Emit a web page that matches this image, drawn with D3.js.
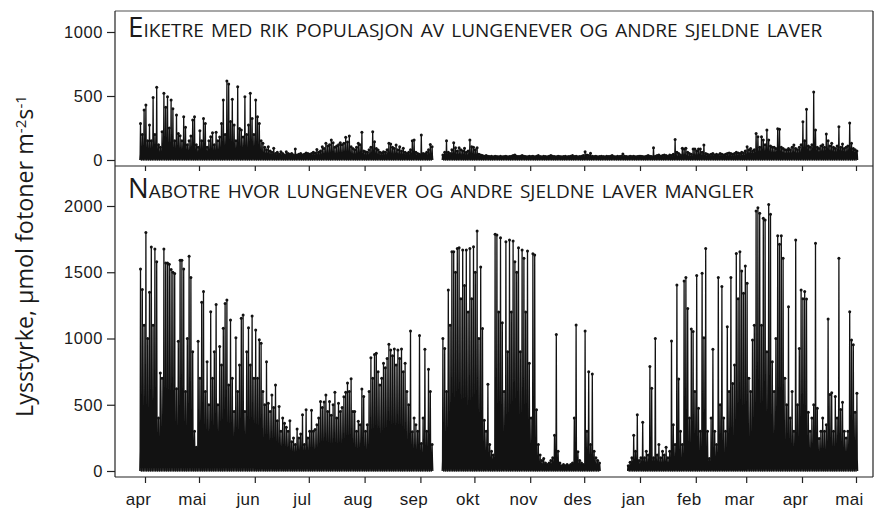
<!DOCTYPE html>
<html>
<head>
<meta charset="utf-8">
<script src="https://cdn.jsdelivr.net/npm/d3@7"></script>
<style>
  body { margin: 0; background: #fff; }
  svg { font-family: "Open Sans", "DejaVu Sans", sans-serif; }
  .axis text { font-size: 16.5px; fill: #1a1a1a; letter-spacing: 0.6px; }
  .axis line { stroke: #222; stroke-width: 1.2px; }
  .axis path { display: none; }
  .light-line { fill: none; stroke: #121212; stroke-width: 1.3px; stroke-linejoin: round; }
  .peak-dot { fill: #121212; }
  .panel-title { font-variant: small-caps; fill: #1a1a1a; font-weight: 500; }
</style>
</head>
<body>
<svg id="chart" width="880" height="517"></svg>
<script>
/* ---------- data (daily maximum light) ---------- */
const startDate = "2010-03-29";   // first day with measurements
const monthLabels = ["apr", "mai", "jun", "jul", "aug", "sep", "okt", "nov", "des", "jan", "feb", "mar", "apr", "mai"];
const topTicks = [0, 500, 1000];
const botTicks = [0, 500, 1000, 1500, 2000];
const topTitle = "Eiketre med rik populasjon av lungenever og andre sjeldne laver";
const botTitle = "Nabotre hvor lungenever og andre sjeldne laver mangler";

// Eiketre (upper panel), one value per day, null = no data
const eikPeak = [
  286, 200, 390,
  430, 150, 273, 150, 488, 200, 568, 120, 100, 221, 521, 412, 495, 250, 469, 400, 150, 352, 208, 190, 150, 338, 255, 120, 150, 188, 312, 338, 120, 100,
  229, 150, 325, 286, 100, 150, 182, 213, 120, 216, 150, 180, 286, 469, 200, 617, 594, 300, 474, 273, 150, 573, 247, 234, 180, 495, 200, 273, 521, 325, 200,
  469, 338, 286, 150, 130, 100, 80, 104, 70, 60, 91, 50, 60, 45, 65, 50, 40, 65, 50, 45, 50, 40, 86, 40, 45, 50, 40, 45, 55, 50,
  45, 50, 60, 55, 83, 60, 70, 104, 90, 130, 110, 120, 156, 135, 100, 110, 120, 135, 120, 130, 177, 140, 187, 104, 90, 80, 100, 130, 120, 216, 70,
  65, 60, 80, 100, 221, 143, 90, 78, 60, 55, 65, 60, 80, 130, 125, 100, 90, 117, 80, 104, 70, 91, 60, 50, 60, 80, 151, 156, 60, 50, 45,
  195, 50, 47, 60, 80, 122, 104, null, null, null, null, null, 40, 60, 151, 60, 50, 80, 135, 96, 70, 96, 80, 70, 91, 60, 70, 156, 104, 99,
  80, 96, 45, 40, 35, 30, 35, 30, 28, 30, 25, 30, 28, 25, 30, 25, 28, 30, 25, 28, 30, 35, 40, 30, 28, 30, 35, 30, 28, 25, 30,
  28, 30, 25, 30, 35, 28, 25, 30, 28, 25, 30, 35, 30, 28, 25, 30, 28, 25, 28, 30, 25, 28, 30, 35, 28, 30, 25, 28, 30, 35,
  65, 40, 35, 52, 30, 28, 30, 25, 28, 30, 28, 25, 30, 28, 30, 35, 28, 25, 30, 28, 30, 47, 30, 28, 25, 30, 28, 30, 25, 28, 30,
  30, 28, 25, 30, 35, 30, 28, 96, 30, 35, 40, 30, 35, 40, 35, 30, 40, 35, 45, 161, 60, 50, 40, 91, 85, 91, 60, 50, 45, 85, 85,
  70, 85, 85, 60, 117, 50, 45, 40, 45, 50, 40, 45, 40, 50, 45, 40, 45, 50, 55, 50, 45, 50, 60, 55, 50, 60, 55, 70,
  104, 80, 90, 70, 80, 208, 182, 100, 182, 156, 120, 234, 156, 110, 100, 100, 90, 245, 240, 100, 90, 80, 78, 90, 80, 100, 117, 90, 80, 100, 120,
  299, 150, 396, 110, 100, 120, 531, 234, 100, 90, 110, 120, 100, 203, 150, 110, 130, 100, 90, 110, 260, 100, 125, 90, 100, 110, 289, 130, 90, 80,
  70
];

// Nabotre (lower panel)
const nabPeak = [
  1525, 1370, 1100,
  1800, 1000, 1350, 1690, 1100, 1675, 1580, 400, 740, 700, 1675, 1570, 1570, 1560, 1520, 1500, 1490, 620, 980, 1590, 1590, 1525, 600, 1000, 1620, 1460, 900, 300, 180, 980,
  700, 1273, 1355, 600, 825, 500, 1202, 700, 900, 1257, 500, 940, 800, 1077, 1265, 1290, 650, 1140, 700, 450, 1006, 600, 800, 1152, 1177, 450, 900, 1082, 800, 1170, 700,
  1064, 700, 990, 965, 600, 500, 825, 511, 450, 573, 480, 650, 380, 486, 300, 400, 360, 330, 300, 380, 220, 250, 200, 317, 250, 280, 425, 200, 463, 250,
  300, 458, 300, 313, 350, 400, 525, 480, 520, 573, 450, 525, 420, 500, 595, 400, 511, 450, 480, 560, 595, 665, 600, 697, 450, 450, 300, 375, 350, 618, 563,
  300, 350, 600, 855, 700, 880, 888, 750, 650, 700, 813, 780, 850, 957, 913, 870, 921, 800, 913, 850, 921, 750, 813, 600, 500, 1057, 297, 400, 350, 300, 1022,
  208, 400, 918, 300, 767, 600, 200, null, null, null, null, null, 1000, 925, 600, 1366, 1100, 1655, 1655, 1500, 1680, 1685, 1300, 1668, 1400, 1668, 1200, 1680, 1300, 1693,
  1500, 1811, 1000, 1540, 1076, 383, 300, 654, 200, 150, 120, 1786, 1781, 1200, 1761, 1119, 600, 1731, 900, 1744, 1200, 1736, 1580, 1500, 1685, 900, 1668, 1605, 1200, 1660, 813,
  400, 1640, 1630, 463, 200, 120, 80, 95, 60, 50, 60, 80, 100, 270, 1031, 150, 60, 40, 50, 40, 50, 40, 50, 60, 400, 1101, 145, 80, 60, 50,
  1057, 300, 750, 200, 732, 150, 100, 80, 60, null, null, null, null, null, null, null, null, null, null, null, null, null, null, null, 40, 66, 100, 270, 150, 425, 80,
  100, 367, 100, 150, 120, 788, 625, 100, 1000, 120, 200, 100, 150, 120, 180, 100, 150, 982, 350, 200, 1404, 694, 300, 200, 1434, 1460, 1226, 400, 1072, 1052, 600,
  1475, 473, 300, 1493, 1006, 1680, 300, 95, 400, 918, 300, 200, 1460, 500, 1392, 400, 300, 1089, 600, 1460, 661, 800, 1642, 1300, 1655, 1509, 1341, 1547,
  1417, 700, 600, 989, 1100, 1962, 1987, 1945, 1100, 1907, 1894, 900, 2012, 1937, 825, 600, 1000, 1776, 1711, 1776, 1605, 700, 500, 1240, 400, 600, 300, 1743, 500, 925, 1366,
  1300, 1354, 1299, 443, 300, 400, 500, 1718, 473, 245, 300, 400, 300, 350, 1147, 578, 590, 300, 563, 400, 1605, 465, 518, 300, 250, 300, 1202, 989, 952, 443,
  586
];

// typical daytime level (the dense dark band), per month Mar 2010 .. May 2011
const eikBand = [45, 45, 45, 35, 30, 30, 28, 25, 20, 20, 20, 25, 40, 50, 50];
const nabBand = [150, 150, 130, 110, 90, 90, 80, 70, 40, 40, 40, 50, 80, 90, 90];

/* ---------- layout ---------- */
const svg = d3.select("#chart");
const box = { left: 115, right: 873, top: 11, mid: 166, bottom: 477 };

const x = d3.scaleUtc()
  .domain([new Date(Date.UTC(2010, 3, 1)), new Date(Date.UTC(2011, 4, 1))])
  .range([145, 856]);
const yTop = d3.scaleLinear().domain([0, 1000]).range([160, 32]);
const yBot = d3.scaleLinear().domain([0, 2000]).range([471, 206]);

const t0 = d3.utcParse("%Y-%m-%d")(startDate);
const dayMs = 864e5;

function monthIdx(d) {
  return (d.getUTCFullYear() - 2010) * 12 + d.getUTCMonth() - 2;
}

// each day: night 0 -> daytime band -> peak -> band -> night 0
function buildSeries(peaks, bands) {
  const pts = [];
  peaks.forEach((p, i) => {
    const day = d3.utcDay.offset(t0, i);
    if (p == null) { pts.push({ t: day, v: null }); return; }
    const b = Math.min(bands[monthIdx(day)], p);
    [[0.1, 0], [0.3, b], [0.5, p], [0.7, b], [0.9, 0]].forEach(([f, v]) => {
      pts.push({ t: new Date(+day + f * dayMs), v, peak: f === 0.5 });
    });
  });
  return pts;
}

function drawPanel(peaks, bands, y) {
  const pts = buildSeries(peaks, bands);
  const line = d3.line()
    .defined(d => d.v != null)
    .x(d => x(d.t))
    .y(d => y(d.v));
  svg.append("path").datum(pts).attr("class", "light-line").attr("d", line);
  svg.append("g").selectAll("circle")
    .data(pts.filter(d => d.peak))
    .join("circle")
    .attr("class", "peak-dot")
    .attr("cx", d => x(d.t))
    .attr("cy", d => y(d.v))
    .attr("r", 1.5);
}

drawPanel(eikPeak, eikBand, yTop);
drawPanel(nabPeak, nabBand, yBot);

/* ---------- frame ---------- */
svg.append("line").attr("x1", box.left).attr("x2", box.right).attr("y1", box.top).attr("y2", box.top)
  .attr("stroke", "#8a8a8a").attr("stroke-width", 1.5);
svg.append("line").attr("x1", box.right).attr("x2", box.right).attr("y1", box.top).attr("y2", box.bottom)
  .attr("stroke", "#222").attr("stroke-width", 1.2);
svg.append("line").attr("x1", box.left).attr("x2", box.right).attr("y1", box.mid).attr("y2", box.mid)
  .attr("stroke", "#222").attr("stroke-width", 1.2);
svg.append("line").attr("x1", box.left).attr("x2", box.right).attr("y1", box.bottom).attr("y2", box.bottom)
  .attr("stroke", "#222").attr("stroke-width", 1.2);
svg.append("line").attr("x1", box.left).attr("x2", box.left).attr("y1", box.top).attr("y2", box.bottom)
  .attr("stroke", "#222").attr("stroke-width", 1.2);

/* ---------- axes ---------- */
const fmt = d3.format("d");
svg.append("g").attr("class", "axis")
  .attr("transform", `translate(${box.left},0)`)
  .call(d3.axisLeft(yTop).tickValues(topTicks).tickSize(8).tickPadding(4).tickFormat(fmt));
svg.append("g").attr("class", "axis")
  .attr("transform", `translate(${box.left},0)`)
  .call(d3.axisLeft(yBot).tickValues(botTicks).tickSize(8).tickPadding(4).tickFormat(fmt));

const monthTicks = x.ticks(d3.utcMonth.every(1));

// small ticks under the upper panel
svg.append("g").attr("class", "axis")
  .attr("transform", `translate(0,${box.mid})`)
  .call(d3.axisBottom(x).tickValues(monthTicks).tickSize(5).tickFormat(""));

const xAxis = svg.append("g").attr("class", "axis")
  .attr("transform", `translate(0,${box.bottom})`)
  .call(d3.axisBottom(x).tickValues(monthTicks).tickSize(6).tickPadding(10)
    .tickFormat((d, i) => monthLabels[i]));
xAxis.selectAll("text").attr("dx", -7).style("font-size", "17px").style("letter-spacing", "0.3px");

/* ---------- titles ---------- */
function fitWidth(sel, w) {
  const len = sel.node().getComputedTextLength();
  const fs = parseFloat(sel.attr("font-size"));
  sel.attr("font-size", (fs * w / len).toFixed(2));
}

const t1 = svg.append("text").attr("class", "panel-title")
  .attr("x", 128).attr("y", 37).attr("font-size", 22).text(topTitle);
fitWidth(t1, 693);
const t2 = svg.append("text").attr("class", "panel-title")
  .attr("x", 128).attr("y", 198).attr("font-size", 22).text(botTitle);
fitWidth(t2, 618);

const yLab = svg.append("text")
  .attr("transform", "translate(33,256) rotate(-90)")
  .attr("text-anchor", "middle")
  .attr("font-size", 17)
  .attr("fill", "#1a1a1a");
yLab.append("tspan").text("Lysstyrke, µmol fotoner m");
yLab.append("tspan").attr("dy", -7).attr("font-size", "0.65em").text("-2");
yLab.append("tspan").attr("dy", 7).text("s");
yLab.append("tspan").attr("dy", -7).attr("font-size", "0.65em").text("-1");
fitWidth(yLab, 322);
</script>
</body>
</html>
